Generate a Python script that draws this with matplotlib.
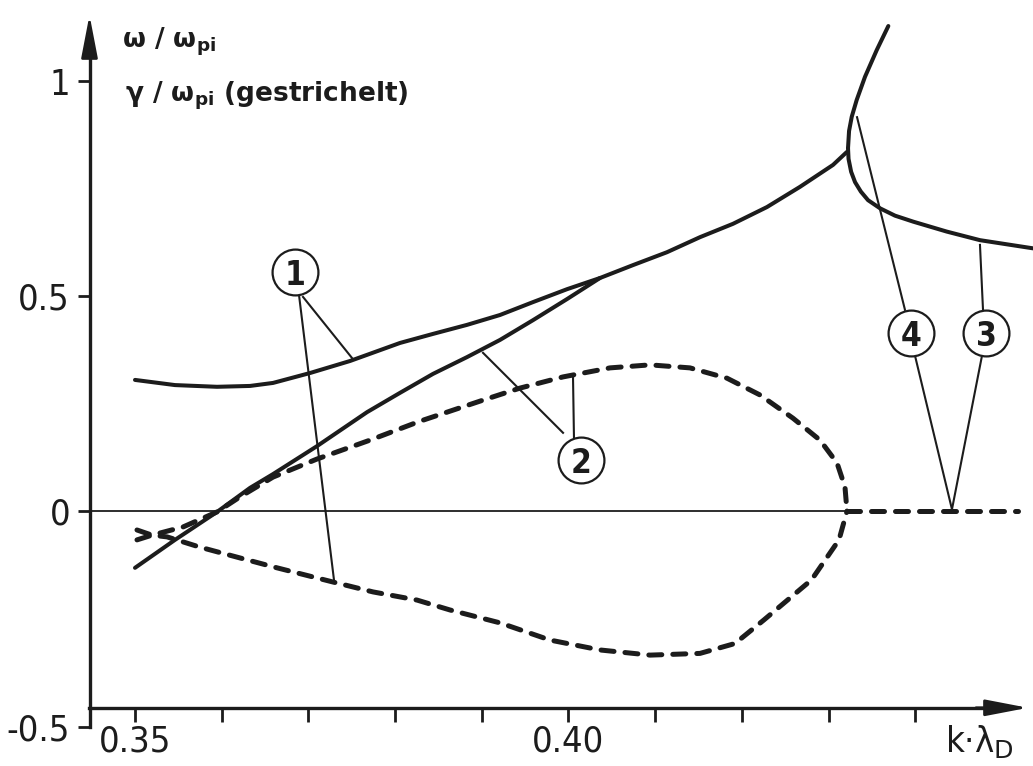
import matplotlib
matplotlib.use("Agg")
import matplotlib.pyplot as plt
from matplotlib import font_manager

# branch 1 (solid, upper) : omega / omega_pi
k1 = [0.35000, 0.35461, 0.35946, 0.36327, 0.36592, 0.37018, 0.37480, 0.38057, 0.38437,
      0.38829, 0.39210, 0.39591, 0.39983, 0.40363, 0.40744, 0.41136, 0.41517, 0.41897,
      0.42289, 0.42670, 0.43051, 0.43210]
w1 = [0.306, 0.294, 0.290, 0.292, 0.299, 0.322, 0.350, 0.392, 0.413,
      0.434, 0.457, 0.487, 0.517, 0.543, 0.573, 0.603, 0.638, 0.669,
      0.708, 0.755, 0.806, 0.836]

# branch 2 (solid, lower) : omega / omega_pi, joins branch 1
k2 = [0.35000, 0.35461, 0.35946, 0.36327, 0.36592, 0.37099, 0.37676, 0.38057, 0.38437,
      0.38829, 0.39210, 0.39591, 0.39983, 0.40363]
w2 = [-0.131, -0.066, -0.001, 0.055, 0.087, 0.152, 0.231, 0.276, 0.320,
      0.359, 0.399, 0.445, 0.494, 0.543]

# branch 4 (top -> turning point) and branch 3 (turning point -> right)
k4 = [0.43689, 0.43555, 0.43420, 0.43324, 0.43267, 0.43236, 0.43224]
w4 = [1.129, 1.073, 1.011, 0.957, 0.918, 0.885, 0.845]
k3 = [0.43224, 0.43230, 0.43260, 0.43305, 0.43372, 0.43455, 0.43594, 0.43766, 0.43977,
      0.44362, 0.44746, 0.45358]
w3 = [0.845, 0.820, 0.790, 0.766, 0.744, 0.724, 0.705, 0.688, 0.674,
      0.651, 0.631, 0.612]

# growth rates gamma / omega_pi (dashed)
kg_up = [0.35023, 0.35196, 0.35554, 0.35946, 0.36211, 0.36592, 0.37099, 0.37711, 0.38287,
         0.39014, 0.39441, 0.39937, 0.40479, 0.40940, 0.41401, 0.41828, 0.42209, 0.42589,
         0.42901, 0.43097, 0.43189, 0.43212]
g_up = [-0.066, -0.055, -0.036, -0.001, 0.034, 0.080, 0.122, 0.166, 0.210,
        0.259, 0.287, 0.313, 0.334, 0.341, 0.334, 0.310, 0.271, 0.217,
        0.166, 0.113, 0.057, 0.001]
kg_lo = [0.35023, 0.35196, 0.35369, 0.35750, 0.36211, 0.36638, 0.37284, 0.37745, 0.38253,
         0.38633, 0.39210, 0.39787, 0.40363, 0.40940, 0.41517, 0.41920, 0.42255, 0.42803,
         0.43120, 0.43212]
g_lo = [-0.043, -0.055, -0.059, -0.083, -0.108, -0.131, -0.164, -0.187, -0.206,
        -0.229, -0.259, -0.299, -0.322, -0.334, -0.330, -0.307, -0.252, -0.159,
        -0.066, 0.001]
kg34 = [0.43212, 0.45185]
g34 = [0.0, 0.0]

xticks = [0.35, 0.36, 0.37, 0.38, 0.39, 0.40, 0.41, 0.42, 0.43, 0.44]
xlabels = ["0.35", "", "", "", "", "0.40", "", "", "", ""]
yticks = [-0.5, 0, 0.5, 1]
ylabels = ["-0.5", "0", "0.5", "1"]

# numbered markers: label, position, leader line end points
marks = [
    ("1", (0.36845, 0.557), [((0.36938, 0.499), (0.37503, 0.357)),
                             ((0.36892, 0.503), (0.37295, -0.159))]),
    ("2", (0.40144, 0.120), [((0.39937, 0.183), (0.39014, 0.369)),
                             ((0.40063, 0.173), (0.40052, 0.313))]),
    ("4", (0.43950, 0.415), [((0.43881, 0.469), (0.43328, 0.917)),
                             ((0.43997, 0.362), (0.44423, 0.005))]),
    ("3", (0.44815, 0.415), [((0.44781, 0.469), (0.44746, 0.620)),
                             ((0.44769, 0.362), (0.44423, 0.005))]),
]

ink = "#1c1c1c"
plt.rcParams["mathtext.fontset"] = "dejavusans"

# condensed face for the numbers if the system has one
cond = font_manager.FontProperties(family="DejaVu Sans", stretch="condensed")
has_cond = "Condensed" in font_manager.findfont(cond)
num_font = dict(family="DejaVu Sans", stretch="condensed") if has_cond else dict(family="Liberation Sans")
num_size = 26 if has_cond else 23

fig = plt.figure(figsize=(10.33, 7.66), dpi=100)
ax = fig.add_axes([89.5 / 1033, 0, 1 - 89.5 / 1033, 1])
x0, x1 = 0.344752, 0.453576
ax.set_xlim(x0, x1)
ax.set_ylim(-0.59186, 1.18953)
ax.patch.set_alpha(0)

# axes with arrow heads
for s in ["top", "right"]:
    ax.spines[s].set_visible(False)
ax.spines["left"].set_bounds(-0.5, 1.10)
ax.spines["left"].set_linewidth(2.4)
ax.spines["left"].set_color(ink)
ax.spines["bottom"].set_position(("data", -0.4565))
ax.spines["bottom"].set_bounds(x0, 0.448)
ax.spines["bottom"].set_linewidth(2.4)
ax.spines["bottom"].set_color(ink)
arrow = dict(arrowstyle="-|>,head_length=1.3,head_width=0.25", lw=2.0, color=ink,
             mutation_scale=20, shrinkA=0, shrinkB=0)
ax.annotate("", xy=(x0, 1.1547), xytext=(x0, 1.06), arrowprops=arrow, annotation_clip=False)
ax.annotate("", xy=(0.4530, -0.4565), xytext=(0.4470, -0.4565), arrowprops=arrow,
            annotation_clip=False)

ax.set_xticks(xticks)
ax.set_xticklabels(xlabels)
ax.set_yticks(yticks)
ax.set_yticklabels(ylabels)
ax.tick_params(axis="x", direction="out", length=10, width=2, pad=2, labelsize=num_size,
               color=ink, labelcolor=ink)
ax.tick_params(axis="y", direction="out", length=9, width=2, pad=5, labelsize=num_size,
               color=ink, labelcolor=ink)
for lab in ax.get_xticklabels() + ax.get_yticklabels():
    lab.set_family(num_font["family"])
    if has_cond:
        lab.set_stretch("condensed")

# zero line
ax.plot([x0, 0.43212], [0, 0], color=ink, lw=1.3)

# real parts (solid)
for k, w in [(k1, w1), (k2, w2), (k4, w4), (k3, w3)]:
    ax.plot(k, w, color=ink, lw=2.9, solid_capstyle="round", solid_joinstyle="round")

# growth rates (dashed)
for k, g in [(kg_up, g_up), (kg_lo, g_lo), (kg34, g34)]:
    ax.plot(k, g, color=ink, lw=3.6, linestyle=(0, (2.6, 2.2)), dash_capstyle="round")

# numbered markers with leaders
for num, (cx, cy), leaders in marks:
    for (xa, ya), (xb, yb) in leaders:
        ax.plot([xa, xb], [ya, yb], color=ink, lw=1.5, zorder=4)
    ax.plot(cx, cy, "o", ms=33, mfc="white", mec=ink, mew=1.6, zorder=5)
    ax.text(cx, cy, num, ha="center", va="center_baseline", fontsize=num_size - 2,
            fontweight="bold", color=ink, zorder=6, **num_font)

# axis titles
fig.text(122 / 1033, 1 - 48 / 766, "ω / ω$_\\mathbf{pi}$", fontsize=19, fontweight="bold",
         color=ink, family="DejaVu Sans")
fig.text(125 / 1033, 1 - 101 / 766, "γ / ω$_\\mathbf{pi}$ (gestrichelt)", fontsize=19,
         fontweight="bold", color=ink, family="DejaVu Sans")
fig.text(945 / 1033, 1 - 752 / 766, "k·λ$_\\mathrm{D}$", fontsize=num_size, color=ink,
         **num_font)

fig.savefig("out.png", dpi=100, facecolor="white")
